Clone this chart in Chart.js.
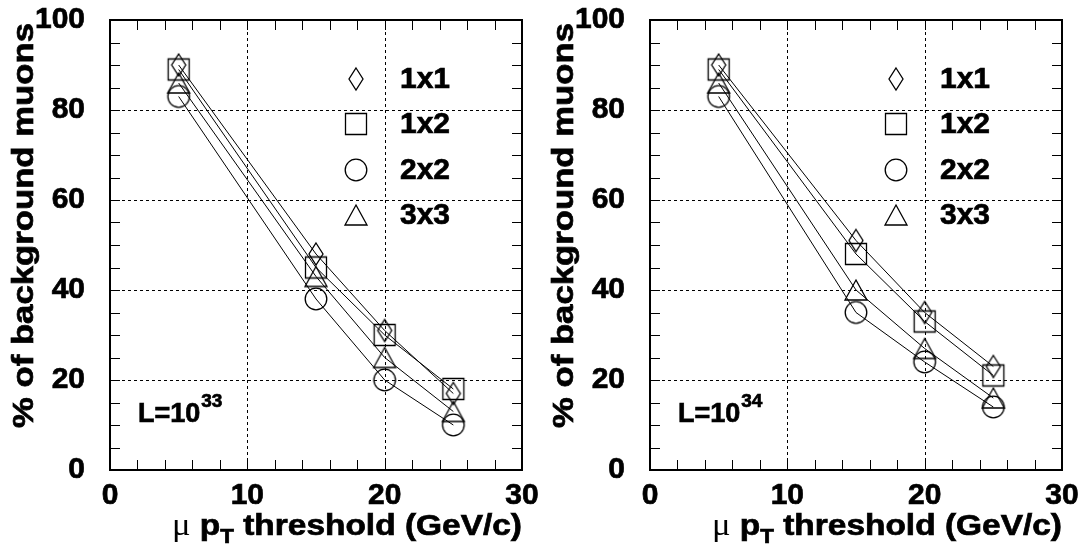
<!DOCTYPE html>
<html>
<head>
<meta charset="utf-8">
<script src="https://cdn.jsdelivr.net/npm/chart.js@4/dist/chart.umd.min.js"></script>
<style>
  html, body { margin: 0; padding: 0; background: #fff; }
  #wrap { position: relative; width: 1085px; height: 554px; overflow: hidden; }
  .pane { position: absolute; top: 0; height: 554px; }
</style>
</head>
<body>
<div id="wrap">
  <div class="pane" style="left:0;width:542px"><canvas id="leftChart"></canvas></div>
  <div class="pane" style="left:540px;width:545px"><canvas id="rightChart"></canvas></div>
</div>
<script>
// muon pT thresholds (GeV/c)
const thresholds = [5, 15, 20, 25];
const seriesNames = ['1x1', '1x2', '2x2', '3x3'];

// % of background muons, L = 10^33
const lumi33_1x1 = [90, 48, 31, 17];
const lumi33_1x2 = [89, 45, 30, 18];
const lumi33_2x2 = [83, 38, 20, 10];
const lumi33_3x3 = [86, 43, 25, 13];

// % of background muons, L = 10^34
const lumi34_1x1 = [90, 51, 35, 23];
const lumi34_1x2 = [89, 48, 33, 21];
const lumi34_2x2 = [83, 35, 24, 14];
const lumi34_3x3 = [86, 40, 27, 16];

const xTickValues = [0, 10, 20, 30];
const yTickValues = [0, 20, 40, 60, 80, 100];

const FONT = "'Liberation Sans', Arial, Helvetica, sans-serif";

// open markers, ROOT style
function makeMarker(kind) {
    const c = document.createElement('canvas');
    c.width = 26; c.height = 26;
    const g = c.getContext('2d');
    g.strokeStyle = '#000';
    g.lineWidth = 1.3;
    g.beginPath();
    if (kind === 'diamond') {
        g.moveTo(13, 2); g.lineTo(20, 13); g.lineTo(13, 24); g.lineTo(6, 13); g.closePath();
    } else if (kind === 'square') {
        g.rect(2.5, 2.5, 21, 21);
    } else if (kind === 'circle') {
        g.arc(13, 13, 10.8, 0, Math.PI * 2);
    } else {
        g.moveTo(13, 3); g.lineTo(24, 23); g.lineTo(2, 23); g.closePath();
    }
    g.stroke();
    return c;
}
const markers = [makeMarker('diamond'), makeMarker('square'), makeMarker('circle'), makeMarker('triangle')];

function toPoints(arr) {
    return thresholds.map((x, i) => ({ x: x, y: arr[i] }));
}

// bold text with a hairline stroke, closer to the heavy ROOT fonts
function boldText(ctx, t, x, y) {
    ctx.fillText(t, x, y);
    ctx.strokeText(t, x, y);
}

// frame, dashed grid, inner ticks, titles, legend and luminosity label
const rootStylePlugin = {
    id: 'rootStyle',
    beforeDatasetsDraw(chart) {
        const ctx = chart.ctx;
        const xs = chart.scales.x, ys = chart.scales.y;
        const a = chart.chartArea;
        ctx.save();
        ctx.strokeStyle = '#000';
        ctx.lineWidth = 1;
        ctx.setLineDash([3, 3]);
        ctx.beginPath();
        [10, 20].forEach(v => {
            const px = Math.round(xs.getPixelForValue(v)) + 0.5;
            ctx.moveTo(px, a.top); ctx.lineTo(px, a.bottom);
        });
        [20, 40, 60, 80].forEach(v => {
            const py = Math.round(ys.getPixelForValue(v)) + 0.5;
            ctx.moveTo(a.left, py); ctx.lineTo(a.right, py);
        });
        ctx.stroke();
        ctx.restore();
    },
    afterDraw(chart) {
        const ctx = chart.ctx;
        const xs = chart.scales.x, ys = chart.scales.y;
        const a = chart.chartArea;
        const opts = chart.options.plugins.rootStyle;
        ctx.save();
        ctx.strokeStyle = '#000';

        // ticks on all four sides
        ctx.lineWidth = 1;
        ctx.beginPath();
        for (let v = 2; v < 30; v += 2) {
            const px = Math.round(xs.getPixelForValue(v)) + 0.5;
            ctx.moveTo(px, a.bottom); ctx.lineTo(px, a.bottom - 10);
            ctx.moveTo(px, a.top); ctx.lineTo(px, a.top + 10);
        }
        for (let v = 5; v < 100; v += 5) {
            const py = Math.round(ys.getPixelForValue(v)) + 0.5;
            ctx.moveTo(a.left, py); ctx.lineTo(a.left + 10, py);
            ctx.moveTo(a.right, py); ctx.lineTo(a.right - 10, py);
        }
        ctx.stroke();

        // frame
        ctx.lineWidth = 2;
        ctx.strokeRect(a.left, a.top, a.right - a.left, a.bottom - a.top);

        ctx.fillStyle = '#000';
        ctx.lineWidth = 0.7;

        // y title, right aligned near the top of the frame, ROOT-wide
        ctx.save();
        ctx.font = 'bold 30px ' + FONT;
        const yTitle = '% of background muons';
        const yw = ctx.measureText(yTitle).width;
        ctx.translate(25, a.top + 3);
        ctx.rotate(-Math.PI / 2);
        ctx.scale(405 / yw, 1);
        ctx.textAlign = 'right';
        ctx.textBaseline = 'middle';
        boldText(ctx, yTitle, 0, 0);
        ctx.restore();

        // x title: μ p_T threshold (GeV/c), right aligned, a bit wider like ROOT's
        const base = 535;
        const parts = [
            { t: 'μ', font: '31px "Liberation Serif", "DejaVu Serif", serif', dy: 0, bold: false },
            { t: ' p', font: 'bold 30px ' + FONT, dy: 0, bold: true },
            { t: 'T', font: 'bold 20px ' + FONT, dy: 8, bold: true },
            { t: ' threshold (GeV/c)', font: 'bold 30px ' + FONT, dy: 0, bold: true }
        ];
        let total = 0;
        parts.forEach(p => { ctx.font = p.font; p.w = ctx.measureText(p.t).width; total += p.w; });
        const sx = 350 / total;
        ctx.save();
        ctx.translate(a.right - 350, base);
        ctx.scale(sx, 1);
        let x = 0;
        ctx.textAlign = 'left';
        ctx.textBaseline = 'alphabetic';
        parts.forEach(p => {
            ctx.font = p.font;
            if (p.bold) boldText(ctx, p.t, x, p.dy); else ctx.fillText(p.t, x, p.dy);
            x += p.w;
        });
        ctx.restore();

        // legend inside the frame
        const rows = [79, 124, 170, 215];
        ctx.font = 'bold 30px ' + FONT;
        ctx.textBaseline = 'middle';
        ctx.textAlign = 'left';
        seriesNames.forEach((name, i) => {
            const m = markers[i];
            ctx.drawImage(m, 356 - m.width / 2, rows[i] - m.height / 2);
            boldText(ctx, name, 400, rows[i] + 1);
        });

        // luminosity label
        ctx.textBaseline = 'alphabetic';
        ctx.font = 'bold 27px ' + FONT;
        boldText(ctx, 'L=10', 138, 422);
        const w = ctx.measureText('L=10').width;
        ctx.font = 'bold 19px ' + FONT;
        boldText(ctx, opts.exponent, 138 + w + 1, 407);

        ctx.restore();
    }
};

function buildChart(canvasId, series, exponent, rightPad) {
    const el = document.getElementById(canvasId);
    const tickFont = { family: FONT, weight: 'bold', size: 30 };
    return new Chart(el, {
        type: 'line',
        data: {
            datasets: series.map((s, i) => ({
                label: seriesNames[i],
                data: toPoints(s),
                borderColor: '#000',
                borderWidth: 1,
                pointStyle: markers[i],
                pointBackgroundColor: 'transparent',
                pointBorderColor: '#000',
                tension: 0,
                fill: false
            }))
        },
        options: {
            responsive: true,
            maintainAspectRatio: false,
            animation: false,
            events: [],
            layout: { padding: { top: 20, right: rightPad, left: 0, bottom: 0 } },
            plugins: {
                legend: { display: false },
                tooltip: { enabled: false },
                rootStyle: { exponent: exponent }
            },
            scales: {
                x: {
                    type: 'linear',
                    min: 0, max: 30,
                    afterBuildTicks: s => { s.ticks = xTickValues.map(v => ({ value: v })); },
                    afterFit: s => { s.height = 84; s.paddingLeft = 0; s.paddingRight = 0; },
                    grid: { display: false },
                    border: { display: false },
                    ticks: {
                        color: '#000',
                        padding: 0,
                        maxRotation: 0,
                        textStrokeColor: '#000',
                        textStrokeWidth: 0.7,
                        font: tickFont
                    }
                },
                y: {
                    type: 'linear',
                    min: 0, max: 100,
                    afterBuildTicks: s => { s.ticks = yTickValues.map(v => ({ value: v })); },
                    afterFit: s => { s.width = 110; s.paddingTop = 0; s.paddingBottom = 0; },
                    grid: { display: false },
                    border: { display: false },
                    ticks: {
                        color: '#000',
                        padding: 17,
                        textStrokeColor: '#000',
                        textStrokeWidth: 0.7,
                        font: tickFont
                    }
                }
            }
        },
        plugins: [rootStylePlugin]
    });
}

buildChart('leftChart', [lumi33_1x1, lumi33_1x2, lumi33_2x2, lumi33_3x3], '33', 20);
buildChart('rightChart', [lumi34_1x1, lumi34_1x2, lumi34_2x2, lumi34_3x3], '34', 23);
</script>
</body>
</html>
